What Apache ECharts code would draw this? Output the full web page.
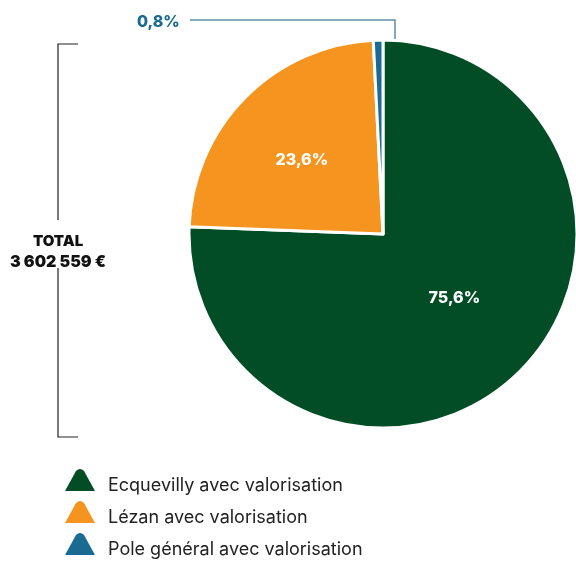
<!DOCTYPE html>
<html>
<head>
<meta charset="utf-8">
<script src="https://cdn.jsdelivr.net/npm/echarts@6/dist/echarts.min.js"></script>
<style>
  html, body { margin: 0; padding: 0; background: #fff; }
  #chart { width: 576px; height: 561px; }
</style>
</head>
<body>
<div id="chart"></div>
<script>
const names = ['Ecquevilly avec valorisation', 'Lézan avec valorisation', 'Pole général avec valorisation']
const shares = [75.6, 23.6, 0.8]
const labels = ['75,6%', '23,6%', '0,8%']
const colors = ['#034d26', '#f5951f', '#1a6a92']
const totalLines = ['TOTAL', '3 602 559 €']

const FONT = 'Inter, "DejaVu Sans", sans-serif'
// fin shape sits in the top of a 30x36 box so the label lines up with its base
const fin = 'path://M0,24 L11,4 Q15,0 19,4 L30,24 Z M0,36 L0.01,36'

const chart = echarts.init(document.getElementById('chart'))

const data = names.map((n, i) => ({
  name: n,
  value: shares[i],
  itemStyle: { color: colors[i] },
  label: i === 2 ? { show: false } : { formatter: labels[i], offset: i === 1 ? [-10, -4] : [2, -8] }
}))

chart.setOption({
  animation: false,
  legend: {
    orient: 'vertical',
    left: 65,
    top: 469,
    padding: 0,
    height: 110,
    itemWidth: 30,
    itemHeight: 36,
    itemGap: -2,
    icon: fin,
    itemStyle: { borderWidth: 0 },
    selectedMode: false,
    textStyle: { fontFamily: FONT, fontSize: 18, color: '#222', padding: [0, 0, 0, 8], letterSpacing: -0.2 },
    data: names
  },
  series: [{
    type: 'pie',
    center: [383, 234],
    radius: [0, 194],
    startAngle: 90,
    clockwise: true,
    silent: true,
    itemStyle: { borderColor: '#fff', borderWidth: 3 },
    label: {
      position: 'inside',
      color: '#fff',
      fontFamily: FONT,
      fontWeight: 800,
      fontSize: 16
    },
    labelLine: { show: false },
    data
  }],
  graphic: [
    // leader for the small slice
    { type: 'polyline', shape: { points: [[190, 20], [395, 20], [395, 45]] }, style: { stroke: '#5e8fa8', lineWidth: 1.5, fill: null } },
    { type: 'text', left: 137, top: 14, style: { text: labels[2], fill: colors[2], font: '800 16px ' + FONT } },
    // total bracket
    { type: 'polyline', shape: { points: [[78, 44], [58, 44], [58, 220]] }, style: { stroke: '#222', lineWidth: 1.2, fill: null } },
    { type: 'polyline', shape: { points: [[58, 268], [58, 437], [78, 437]] }, style: { stroke: '#222', lineWidth: 1.2, fill: null } },
    { type: 'text', x: 58, y: 241, style: { text: totalLines[0], fill: '#111', font: '900 15px ' + FONT, align: 'center', verticalAlign: 'middle' } },
    { type: 'text', x: 58, y: 262, style: { text: totalLines[1], fill: '#111', font: '900 16px ' + FONT, align: 'center', verticalAlign: 'middle', letterSpacing: -0.5 } }
  ]
})
</script>
</body>
</html>
